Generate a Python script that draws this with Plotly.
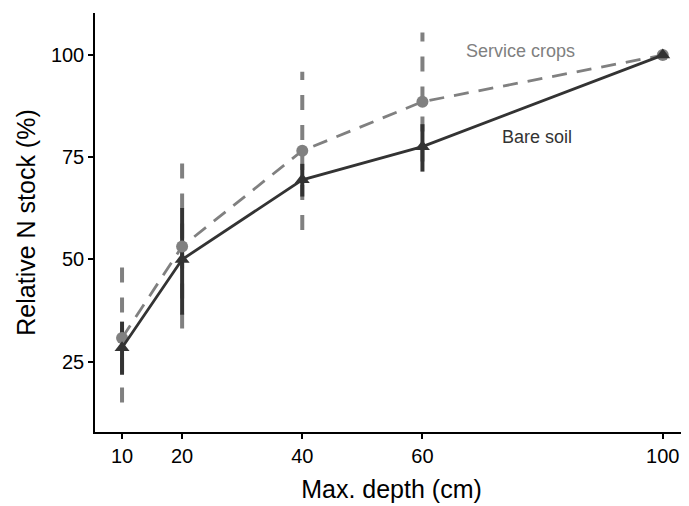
import plotly.graph_objects as go

depth = [10, 20, 40, 60, 100]
bare_mean = [28.4, 50.0, 69.5, 77.6, 100.0]
bare_low = [21.8, 36.5, 65.4, 71.5, None]
bare_high = [34.8, 62.6, 73.4, 83.1, None]
serv_mean = [30.8, 53.2, 76.6, 88.6, 100.0]
serv_low = [15.0, 33.1, 57.2, 74.0, None]
serv_high = [49.2, 74.8, 95.9, 105.5, None]
x_ticks = [10, 20, 40, 60, 100]
y_ticks = [25, 50, 75, 100]

DARK = "#333333"
GREY = "#808080"
FONT = "Arial, Liberation Sans, sans-serif"


def ranges(xs, lo, hi):
    rx, ry = [], []
    for x, a, b in zip(xs, lo, hi):
        if a is None or b is None:
            continue
        rx += [x, x, None]
        ry += [a, b, None]
    return rx, ry


fig = go.Figure()

sx, sy = ranges(depth, serv_low, serv_high)
fig.add_trace(go.Scatter(x=sx, y=sy, mode="lines",
                         line=dict(color=GREY, width=4, dash="15px,15px"),
                         hoverinfo="skip", showlegend=False))
bx, by = ranges(depth, bare_low, bare_high)
fig.add_trace(go.Scatter(x=bx, y=by, mode="lines",
                         line=dict(color=DARK, width=4),
                         hoverinfo="skip", showlegend=False))

fig.add_trace(go.Scatter(x=depth, y=serv_mean, mode="lines+markers",
                         line=dict(color=GREY, width=2.8, dash="15px,10px"),
                         marker=dict(symbol="circle", size=12, color=GREY),
                         name="Service crops", showlegend=False))
fig.add_trace(go.Scatter(x=depth, y=bare_mean, mode="lines+markers",
                         line=dict(color=DARK, width=2.8),
                         marker=dict(symbol="triangle-up", size=13, color=DARK),
                         name="Bare soil", showlegend=False))

fig.add_annotation(x=76.4, y=101.0, text="Service crops", showarrow=False,
                   font=dict(family=FONT, size=18, color=GREY))
fig.add_annotation(x=79.1, y=80.0, text="Bare soil", showarrow=False,
                   font=dict(family=FONT, size=18, color=DARK))

fig.update_layout(
    width=681, height=498,
    margin=dict(l=87, r=1, t=5, b=74),
    paper_bgcolor="white", plot_bgcolor="white",
    font=dict(family=FONT, color="black"),
    xaxis=dict(range=[5.5, 104.2], tickvals=x_ticks, ticktext=[str(t) for t in x_ticks],
               automargin=False,
               showgrid=False, zeroline=False, showline=True, linecolor="black", linewidth=1.5,
               ticks="outside", ticklen=5, tickwidth=1.5, tickcolor="black",
               tickfont=dict(size=20, color="black"),
               title=dict(text="Max. depth (cm)", font=dict(size=25, color="black"), standoff=15)),
    yaxis=dict(range=[7.8, 110.3], tickvals=y_ticks, ticktext=[str(t) for t in y_ticks],
               automargin=False,
               showgrid=False, zeroline=False, showline=True, linecolor="black", linewidth=1.5,
               ticks="outside", ticklen=5, tickwidth=1.5, tickcolor="black",
               tickfont=dict(size=20, color="black"),
               title=dict(text="Relative N stock (%)", font=dict(size=25, color="black"), standoff=8)),
)

fig.write_html("out.html")
